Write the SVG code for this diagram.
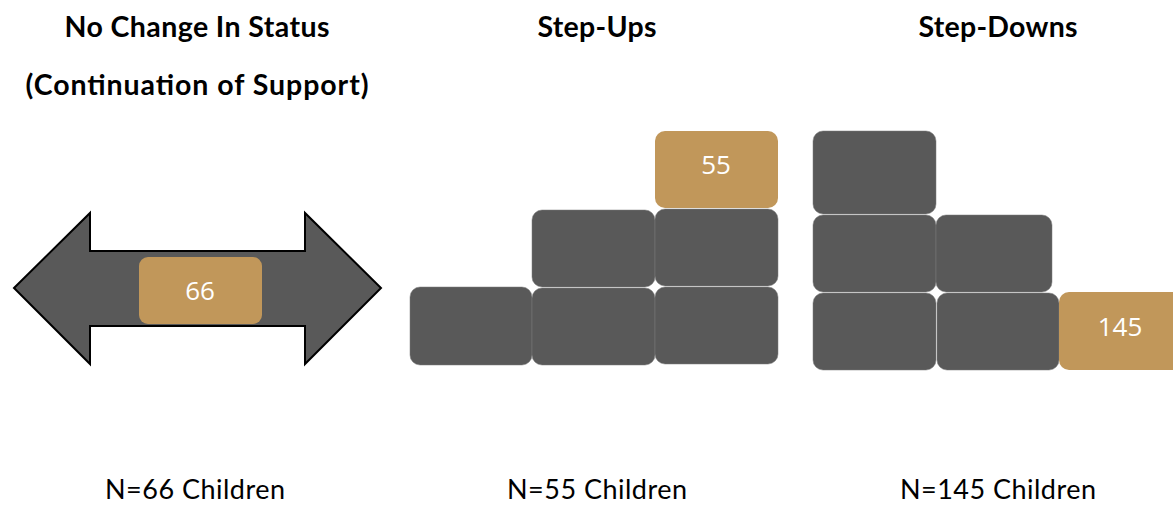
<svg xmlns="http://www.w3.org/2000/svg" width="1173" height="506" viewBox="0 0 1173 506">
<style>
.h{font-family:Lato,"Liberation Sans",sans-serif;font-weight:bold;font-size:28.5px;fill:#000;text-anchor:middle}
.f{font-family:Lato,"Liberation Sans",sans-serif;font-size:27px;fill:#000;text-anchor:middle}
.n{font-family:"Open Sans","Liberation Sans",sans-serif;font-size:26px;fill:#fff;text-anchor:middle}
.d{fill:#595959;stroke:#7a7a7a;stroke-width:0.5}
.g{fill:#C1975A}
</style>
<rect width="1173" height="506" fill="#fff"/>
<g id="headings">
<text class="h" x="197" y="37" textLength="265">No Change In Status</text>
<text class="h" x="197" y="95" textLength="343">(Continuation of Support)</text>
<text class="h" x="597" y="37" textLength="119">Step-Ups</text>
<text class="h" x="998" y="37" textLength="159">Step-Downs</text>
</g>
<g id="no-change">
<path d="M14,288 L90,213 L90,251 L305,251 L305,213 L381,288 L305,364 L305,326 L90,326 L90,364 Z" fill="#595959" stroke="#000" stroke-width="2" stroke-linejoin="miter"/>
<rect class="g" x="139" y="257" width="123" height="67" rx="9"/>
<text class="n" x="200" y="300">66</text>
</g>
<g id="step-ups">
<rect class="d" x="410" y="287" width="122" height="78" rx="10"/>
<rect class="d" x="532" y="288" width="123" height="77" rx="10"/>
<rect class="d" x="655" y="287" width="123" height="77" rx="10"/>
<rect class="d" x="532" y="210" width="123" height="77" rx="10"/>
<rect class="d" x="655" y="209" width="123" height="77" rx="10"/>
<rect class="g" x="655" y="131" width="123" height="77" rx="10"/>
<text class="n" x="716" y="174">55</text>
</g>
<g id="step-downs">
<rect class="d" x="813" y="131" width="123" height="83" rx="10"/>
<rect class="d" x="813" y="215" width="123" height="77" rx="10"/>
<rect class="d" x="936" y="215" width="116" height="77" rx="10"/>
<rect class="d" x="813" y="293" width="123" height="77" rx="10"/>
<rect class="d" x="937" y="293" width="122" height="77" rx="10"/>
<rect class="g" x="1059" y="292" width="124" height="78" rx="10"/>
<text class="n" x="1120" y="336">145</text>
</g>
<g id="footers">
<text class="f" x="195" y="499" textLength="180">N=66 Children</text>
<text class="f" x="597" y="499" textLength="180">N=55 Children</text>
<text class="f" x="998" y="499" textLength="196">N=145 Children</text>
</g>
</svg>
